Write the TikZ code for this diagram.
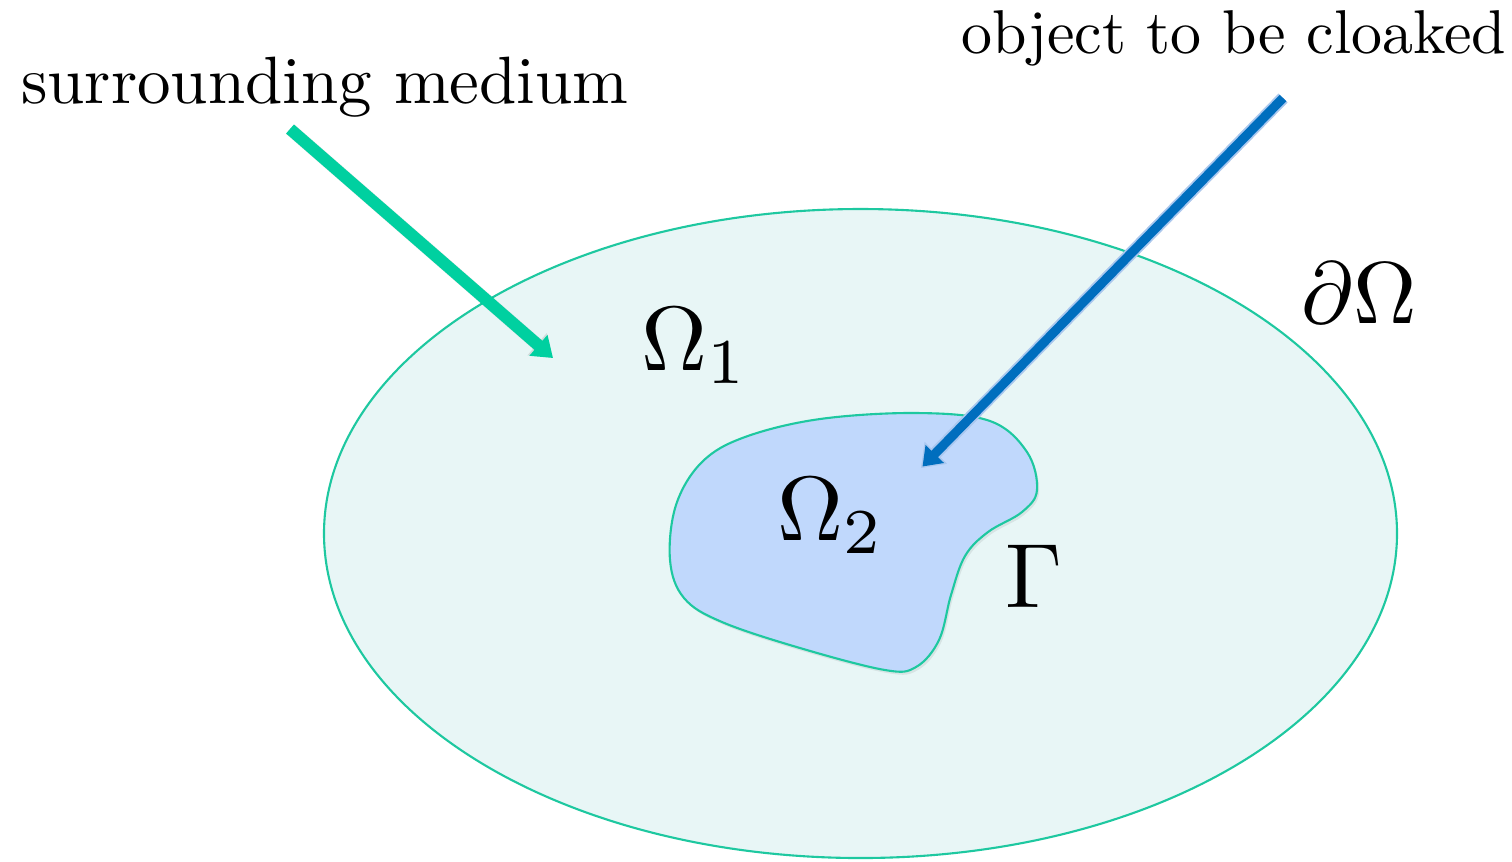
\documentclass[tikz,border=0pt]{standalone}
\usetikzlibrary{arrows.meta}
\definecolor{rimgreen}{RGB}{30,200,160}
\definecolor{outerfill}{RGB}{232,246,246}
\definecolor{innerfill}{RGB}{192,216,252}
\definecolor{arrgreen}{RGB}{0,208,160}
\definecolor{arrblue}{RGB}{0,110,190}
\definecolor{arrblueedge}{RGB}{170,200,240}
\tikzset{
  lbl/.style={inner sep=0pt, anchor=base west, text=black, font=\fontsize{10}{12}\selectfont},
  region/.style={draw=rimgreen, line width=0.6pt},
}
\begin{document}
\begin{tikzpicture}[x=0.1mm,y=-0.1mm]
\useasboundingbox (0,0) rectangle (1512,861);
% outer domain
\draw[region, fill=outerfill] (860.5,533.5) ellipse [x radius=536.5, y radius=324.5];
% inner blob shadow
\fill[black, opacity=0.07, shift={(2,3)}]
  plot[smooth cycle, tension=0.6] coordinates {
  (917,413) (990,421) (1027,452) (1037,490) (1022,512) (988,532) (965,556)
  (951,595) (939,640) (916,667) (885,670) (800,648) (722,622) (684,598)
  (670,560) (676,505) (702,462) (745,437) (820,419)};
% inner blob
\draw[region, fill=innerfill]
  plot[smooth cycle, tension=0.6] coordinates {
  (917,413) (990,421) (1027,452) (1037,490) (1022,512) (988,532) (965,556)
  (951,595) (939,640) (916,667) (885,670) (800,648) (722,622) (684,598)
  (670,560) (676,505) (702,462) (745,437) (820,419)};
% labels
\node[lbl, scale=1.905] (sm) at (20,103) {surrounding medium};
\node[lbl, scale=1.76] (oc) at (960,53) {object to be cloaked};
\node[lbl, scale=2.6] (o1) at (640,370) {$\Omega_1$};
\node[lbl, scale=2.6] (o2) at (776,540) {$\Omega_2$};
\node[lbl, scale=2.6] (gm) at (1004,607) {$\Gamma$};
\node[lbl, scale=2.5] (dO) at (1300,323) {$\partial\Omega$};
% arrows
\coordinate (gs) at (290,129);
\coordinate (ge) at (553,358);
\coordinate (bs) at (1283,98);
\coordinate (be) at (921,468);
\draw[black, opacity=0.10, line width=3.6pt, -{Triangle[length=6pt,width=8pt]}, shift={(2,3)}] (gs) -- (ge);
\draw[arrgreen, line width=3.4pt, -{Triangle[length=5.5pt,width=7.5pt]}] (gs) -- (ge);
\draw[black, opacity=0.10, line width=3.6pt, -{Triangle[length=6pt,width=8pt]}, shift={(2,3)}] (bs) -- (be);
\draw[arrblueedge, line width=3.6pt, -{Triangle[length=6pt,width=8.5pt]}] (bs) -- (be);
\draw[arrblue, line width=2.6pt, shorten >=0.6pt, -{Triangle[length=5pt,width=7pt]}] (bs) -- (be);
\end{tikzpicture}
\end{document}
